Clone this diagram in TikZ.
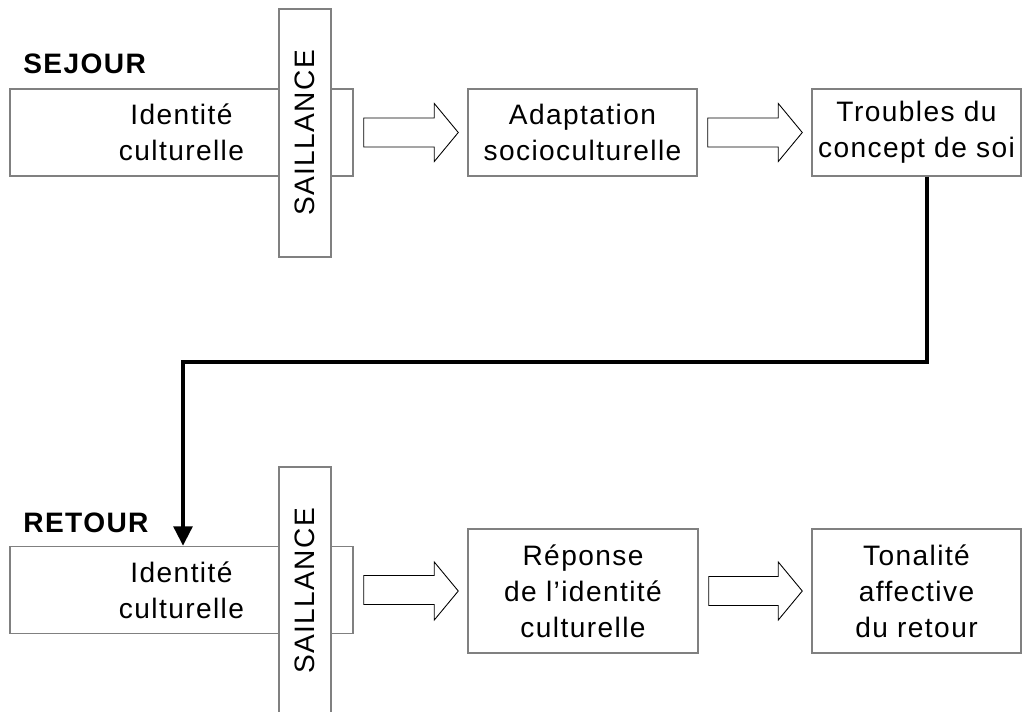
\documentclass[tikz,border=0pt]{standalone}
\usepackage{fontspec}
\setmainfont[LetterSpace=5]{Liberation Sans}
\usetikzlibrary{calc,arrows.meta}

\tikzset{
  boite/.style={draw=gray, line width=0.85pt, fill=white, align=center,
    inner sep=0pt, font=\fontsize{16}{20.5}\selectfont},
  saillance/.style={boite, rotate=90, minimum width=4.96cm, minimum height=1.04cm},
  phase/.style={font=\fontsize{16}{20}\selectfont\bfseries, anchor=base west, inner sep=0pt},
  fleche/.style={draw=black, line width=0.5pt, fill=white},
  lien/.style={line width=2.3pt, -{Stealth[length=11pt, width=10.5pt, inset=0pt]}}
}

% block arrow between two boxes (anchors given)
\newcommand{\fleche}[2]{%
  \path ($(#1)+(10,0)$) coordinate (t) ($(#2)-(9,0)$) coordinate (p);
  \draw[fleche] ($(t)+(0,-14.5)$) -| ($(p)+(-24,-29)$) -- (p)
    -- ($(p)+(-24,29)$) |- ($(t)+(0,14.5)$) -- cycle;}

\begin{document}
\begin{tikzpicture}[x=0.02cm, y=-0.02cm]
    \useasboundingbox (0,0) rectangle (1030,711);

    % Sejour
    \node[phase] (sejour) at (23,73) {SEJOUR};
    \node[boite, minimum width=6.86cm, minimum height=1.74cm] (idsej) at (181.5,132.5) {Identité\\culturelle};
    \node[saillance] (sailsej) at (305,133) {SAILLANCE};
    \node[boite, minimum width=4.58cm, minimum height=1.74cm] (adapt) at (582.5,132.5) {Adaptation\\socioculturelle};
    \node[boite, minimum width=4.18cm, minimum height=1.74cm] (troub) at (916.5,132.5) {Troubles du\\concept de soi};

    % Retour
    \node[phase] (retour) at (23,532) {RETOUR};
    \node[boite, minimum width=6.86cm, minimum height=1.74cm] (idret) at (181.5,590) {Identité\\culturelle};
    \node[saillance] (sailret) at (305,591) {SAILLANCE};
    \node[boite, minimum width=4.6cm, minimum height=2.48cm] (rep) at (583,591) {Réponse\\de l’identité\\culturelle};
    \node[boite, minimum width=4.18cm, minimum height=2.48cm] (ton) at (916.5,591) {Tonalité\\affective\\du retour};

    % Arrows
    \fleche{idsej.east}{adapt.west}
    \fleche{adapt.east}{troub.west}
    \fleche{idret.east}{rep.west}
    \fleche{rep.east}{ton.west}

    \coordinate (coude) at (183,362);
    \draw[lien] ($(troub.south)+(10.5,0)$) |- (coude) -- (coude |- idret.north);
\end{tikzpicture}
\end{document}
